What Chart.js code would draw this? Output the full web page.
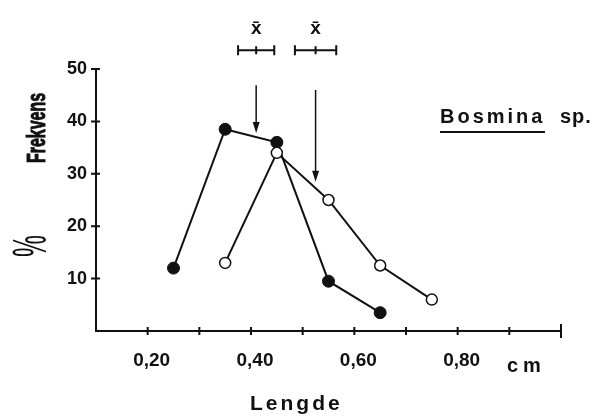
<!DOCTYPE html>
<html>
<head>
<meta charset="utf-8">
<title>Bosmina sp.</title>
<script src="https://cdn.jsdelivr.net/npm/chart.js@4.4.1/dist/chart.umd.min.js"></script>
<style>
  body { margin: 0; background: #fff; }
  canvas { display: block; }
</style>
</head>
<body>
<canvas id="chart" width="608" height="416"></canvas>
<script>
// length (cm) against frequency (%), two samples
const lengthsFilled = [0.25, 0.35, 0.45, 0.55, 0.65];
const freqFilled = [12, 38.5, 36, 9.5, 3.5];
const lengthsOpen = [0.35, 0.45, 0.55, 0.65, 0.75];
const freqOpen = [13, 34, 25, 12.5, 6];

const xLabelValues = [0.2, 0.4, 0.6, 0.8];
const yLabelValues = [10, 20, 30, 40, 50];

// mean length of each sample with its spread, arrows point down onto the curves
const meanLengths = [0.41, 0.525];
const meanSpread = [0.035, 0.04];
const arrowFrom = [46.9, 46];
const arrowTo = [37.8, 28.5];

const INK = "#111";
const SANS = "'Liberation Sans', Arial, sans-serif";

function toPoints(xs, ys) {
  return xs.map((x, i) => ({ x: x, y: ys[i] }));
}

// text squeezed or stretched to a given length, optionally rotated,
// with a thin outline to keep it heavy after squeezing
function fittedText(ctx, text, x, y, length, font, angle, weight) {
  ctx.save();
  ctx.font = font;
  const w = ctx.measureText(text).width;
  ctx.translate(x, y);
  ctx.rotate(angle || 0);
  ctx.scale(length / w, 1);
  ctx.fillText(text, 0, 0);
  if (weight) {
    ctx.lineWidth = weight;
    ctx.strokeText(text, 0, 0);
  }
  ctx.restore();
}

const annotations = {
  id: "annotations",
  afterDraw(chart) {
    const { ctx, scales: { x, y } } = chart;
    const y0 = y.getPixelForValue(0);
    const x0 = x.getPixelForValue(x.min);

    ctx.save();
    ctx.strokeStyle = INK;
    ctx.fillStyle = INK;
    ctx.lineWidth = 2;

    // tick marks crossing the axes
    ctx.beginPath();
    x.ticks.forEach((t) => {
      if (t.value <= x.min + 1e-6) return;
      const px = x.getPixelForValue(t.value);
      const h = t.value >= x.max - 1e-6 ? 7 : 4;
      ctx.moveTo(px, y0 - h);
      ctx.lineTo(px, y0 + h);
    });
    yLabelValues.forEach((v) => {
      const py = y.getPixelForValue(v);
      ctx.moveTo(x0 - 5, py);
      ctx.lineTo(x0 + 4, py);
    });
    ctx.stroke();

    // means: bar with end caps, x-bar symbol above, arrow down
    meanLengths.forEach((m, i) => {
      const cx = x.getPixelForValue(m);
      const l = x.getPixelForValue(m - meanSpread[i]);
      const r = x.getPixelForValue(m + meanSpread[i]);
      const by = y.getPixelForValue(53.6);
      ctx.lineWidth = 2;
      ctx.beginPath();
      ctx.moveTo(l, by); ctx.lineTo(r, by);
      ctx.moveTo(l, by - 5); ctx.lineTo(l, by + 5);
      ctx.moveTo(r, by - 5); ctx.lineTo(r, by + 5);
      ctx.moveTo(cx, by - 4); ctx.lineTo(cx, by + 4);
      ctx.stroke();

      ctx.font = "bold 19px " + SANS;
      ctx.textAlign = "center";
      ctx.textBaseline = "alphabetic";
      ctx.fillText("x\u0304", cx, by - 16);

      const top = y.getPixelForValue(arrowFrom[i]);
      const tip = y.getPixelForValue(arrowTo[i]);
      ctx.lineWidth = 1.5;
      ctx.beginPath();
      ctx.moveTo(cx, top);
      ctx.lineTo(cx, tip - 8);
      ctx.stroke();
      ctx.beginPath();
      ctx.moveTo(cx - 3.5, tip - 11);
      ctx.lineTo(cx + 3.5, tip - 11);
      ctx.lineTo(cx, tip);
      ctx.closePath();
      ctx.fill();
    });

    // axis titles
    ctx.textAlign = "left";
    ctx.textBaseline = "alphabetic";
    fittedText(ctx, "Frekvens", 45, 163, 70, "bold 26px " + SANS, -Math.PI / 2, 1);
    ctx.textBaseline = "middle";
    fittedText(ctx, "%", 33, 257, 22, "48px " + SANS, -Math.PI / 2);
    ctx.textBaseline = "alphabetic";

    ctx.letterSpacing = "3px";
    ctx.font = "bold 21px " + SANS;
    ctx.fillText("Lengde", 250, 410);
    ctx.font = "bold 20px " + SANS;
    ctx.letterSpacing = "5px";
    ctx.fillText("cm", 507, 372);

    // species name, underlined
    ctx.letterSpacing = "3px";
    ctx.font = "bold 20px " + SANS;
    ctx.fillText("Bosmina", 440, 123);
    ctx.letterSpacing = "1px";
    ctx.fillText("sp.", 560, 123);
    ctx.letterSpacing = "0px";
    ctx.lineWidth = 2;
    ctx.beginPath();
    ctx.moveTo(440, 132);
    ctx.lineTo(545, 132);
    ctx.stroke();

    ctx.restore();
  },
};

new Chart(document.getElementById("chart"), {
  type: "scatter",
  data: {
    datasets: [
      {
        label: "open",
        data: toPoints(lengthsOpen, freqOpen),
        showLine: true,
        borderColor: INK,
        borderWidth: 2,
        pointRadius: 5.5,
        pointBackgroundColor: "#fff",
        pointBorderColor: INK,
        pointBorderWidth: 1.5,
        order: 0,
      },
      {
        label: "filled",
        data: toPoints(lengthsFilled, freqFilled),
        showLine: true,
        borderColor: INK,
        borderWidth: 2,
        pointRadius: 6,
        pointBackgroundColor: INK,
        pointBorderColor: INK,
        pointBorderWidth: 1,
        order: 1,
      },
    ],
  },
  options: {
    responsive: false,
    animation: false,
    devicePixelRatio: 1,
    events: [],
    layout: {
      padding: { top: 69, right: 47, left: 0, bottom: 0 },
    },
    plugins: {
      legend: { display: false },
      tooltip: { enabled: false },
    },
    scales: {
      x: {
        type: "linear",
        min: 0.1,
        max: 1.0,
        grid: { display: false, drawTicks: false },
        border: { display: true, color: INK, width: 2 },
        afterFit(scale) {
          scale.height = 85;
        },
        ticks: {
          stepSize: 0.1,
          autoSkip: false,
          maxRotation: 0,
          padding: 18,
          labelOffset: 4,
          color: INK,
          font: { family: SANS, weight: "bold", size: 19 },
          callback(value) {
            const v = Math.round(value * 100) / 100;
            return xLabelValues.includes(v) ? v.toFixed(2).replace(".", ",") : "";
          },
        },
      },
      y: {
        min: 0,
        max: 50,
        grid: { display: false, drawTicks: false },
        border: { display: true, color: INK, width: 2 },
        afterFit(scale) {
          scale.width = 96;
        },
        ticks: {
          stepSize: 10,
          padding: 9,
          color: INK,
          font: { family: SANS, weight: "bold", size: 18 },
          callback(value) {
            return yLabelValues.includes(value) ? String(value) : "";
          },
        },
      },
    },
  },
  plugins: [annotations],
});
</script>
</body>
</html>
